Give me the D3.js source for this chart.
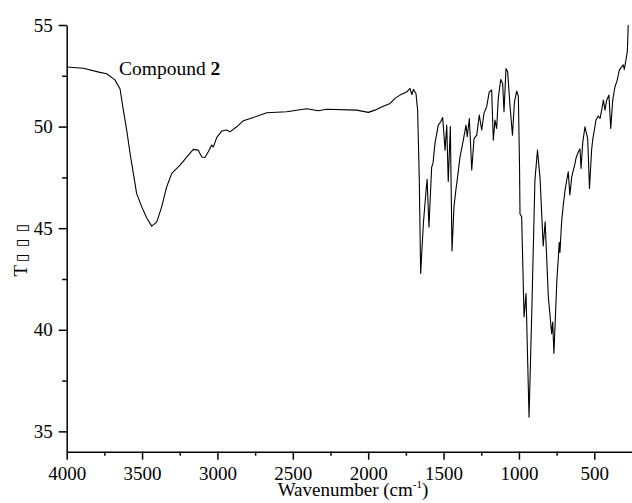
<!DOCTYPE html>
<html lang="en">
<head>
  <meta charset="UTF-8">
  <title>IR spectrum - Compound 2</title>
  <style>
  body { margin: 0; background: #fff; }
  svg { display: block; }
  text {
    font-family: 'Liberation Serif', 'Times New Roman', serif;
    fill: #000;
  }
  .axis path, .axis line {
    stroke: #000;
    stroke-width: 1.5px;
    fill: none;
  }
  .axis text { font-size: 19px; }
  .spectrum {
    fill: none;
    stroke: #000;
    stroke-width: 1.1px;
    stroke-linejoin: round;
  }
  </style>
</head>
<body>
  <svg></svg>
  <script src="https://d3js.org/d3.v7.min.js"></script>
  <script>

  // wavenumber (cm-1) and transmittance
  var wavenumber = [
    4000, 3890, 3779, 3735, 3680, 3646, 3625, 3602, 3580, 3558,
    3536, 3502, 3469, 3436, 3403, 3370, 3337, 3303, 3248, 3204,
    3160, 3127, 3104, 3083, 3061, 3038, 3027, 3005, 2972, 2939,
    2917, 2872, 2828, 2762, 2673, 2541, 2408, 2331, 2275, 2076,
    1999, 1955, 1900, 1855, 1822, 1789, 1745, 1723, 1710, 1700,
    1683, 1672, 1661, 1652, 1634, 1616, 1609, 1597, 1579, 1570,
    1557, 1535, 1519, 1506, 1490, 1479, 1469, 1455, 1444, 1431,
    1418, 1409, 1391, 1369, 1351, 1343, 1329, 1313, 1298, 1280,
    1263, 1247, 1232, 1214, 1197, 1181, 1170, 1159, 1148, 1137,
    1121, 1108, 1099, 1086, 1075, 1059, 1043, 1030, 1015, 1004,
    996, 993, 982, 966, 953, 933, 915, 894, 877, 860,
    839, 826, 805, 783, 776, 768, 748, 739, 733, 728,
    717, 706, 694, 683, 673, 662, 650, 628, 622, 606,
    595, 588, 577, 562, 544, 532, 518, 511, 489, 474,
    462, 451, 440, 429, 418, 403, 391, 378, 363, 348,
    334, 318, 308, 301, 292, 281, 275
  ];
  var transmittance = [
    52.93, 52.87, 52.67, 52.6, 52.3, 51.85, 50.85, 49.83, 48.7, 47.7,
    46.7, 46.05, 45.5, 45.1, 45.3, 46.05, 47.03, 47.7, 48.1, 48.5,
    48.88, 48.84, 48.5, 48.48, 48.76, 49.09, 49.0, 49.46, 49.78, 49.83,
    49.74, 49.99, 50.29, 50.45, 50.68, 50.73, 50.88, 50.78, 50.85, 50.81,
    50.7, 50.81, 51.0, 51.14, 51.39, 51.55, 51.7, 51.88, 51.58, 51.83,
    51.63, 50.8, 47.36, 42.77, 45.23, 46.87, 47.4, 45.06, 48.0, 48.2,
    49.17, 50.07, 50.24, 50.45, 48.84, 50.07, 47.3, 50.0, 43.88, 46.05,
    46.9, 47.4, 48.5, 49.33, 50.07, 49.5, 50.4, 47.86, 49.41, 49.58,
    50.57, 49.83, 50.65, 50.98, 51.71, 51.8, 49.33, 50.32, 49.91, 51.39,
    52.32, 52.12, 50.73, 52.86, 52.7, 51.0, 49.58, 51.2, 51.75, 51.5,
    48.0, 45.7, 45.56, 40.63, 41.78, 35.7, 40.8, 47.36, 48.84, 47.45,
    44.12, 45.31, 41.61, 39.81, 40.38, 38.83, 42.5, 43.5, 44.3, 43.8,
    45.3, 46.13, 46.87, 47.36, 47.77, 46.63, 47.53, 48.18, 48.43, 48.76,
    48.9, 47.94, 49.2, 49.99, 49.41, 46.95, 48.84, 49.33, 50.32, 50.52,
    50.4, 50.81, 51.3, 50.81, 51.3, 51.55, 49.91, 51.3, 51.96, 52.29,
    52.78, 52.95, 53.04, 52.82, 53.2, 53.69, 55.0
  ];

  var xMajor = [4000, 3500, 3000, 2500, 2000, 1500, 1000, 500];
  var xMinor = [3750, 3250, 2750, 2250, 1750, 1250, 750];
  var yMajor = [35, 40, 45, 50, 55];
  var yMinor = [37.5, 42.5, 47.5, 52.5];

  var width = 632, height = 503;
  var plotLeft = 66.7, plotRight = 632, plotTop = 25, plotBottom = 451.7;

  var svg = d3.select('svg').attr('width', width).attr('height', height);

  var x = d3.scaleLinear().domain([4000, 250]).range([plotLeft, plotRight]);
  var y = d3.scaleLinear().domain([34, 55]).range([plotBottom, plotTop]);

  // minor ticks first, then the labelled axis on top
  svg.append('g')
     .attr('class', 'axis')
     .attr('transform', 'translate(0,' + plotBottom + ')')
     .call(d3.axisBottom(x).tickValues(xMinor).tickSize(4).tickFormat(''))
     .select('.domain').remove();

  svg.append('g')
     .attr('class', 'axis')
     .attr('transform', 'translate(0,' + plotBottom + ')')
     .call(d3.axisBottom(x).tickValues(xMajor).tickSize(8).tickSizeOuter(0)
       .tickPadding(6.5).tickFormat(d3.format('d')));

  svg.append('g')
     .attr('class', 'axis')
     .attr('transform', 'translate(' + plotLeft + ',0)')
     .call(d3.axisLeft(y).tickValues(yMinor).tickSize(4.5).tickFormat(''))
     .select('.domain').remove();

  svg.append('g')
     .attr('class', 'axis')
     .attr('transform', 'translate(' + plotLeft + ',0)')
     .call(d3.axisLeft(y).tickValues(yMajor).tickSize(8).tickSizeOuter(0)
       .tickPadding(6).tickFormat(d3.format('d')));

  svg.selectAll('.axis text').attr('font-family', null).attr('font-size', null);

  var line = d3.line()
    .x(function (d) { return x(d[0]); })
    .y(function (d) { return y(d[1]); });

  svg.append('path')
     .datum(d3.zip(wavenumber, transmittance))
     .attr('class', 'spectrum')
     .attr('d', line);

  // sample label
  var label = svg.append('text')
     .attr('x', 119)
     .attr('y', 75)
     .style('font-size', '19.5px');
  label.append('tspan').text('Compound ');
  label.append('tspan').style('font-weight', 'bold').text('2');

  // x axis title
  var xt = svg.append('text')
     .attr('x', 353)
     .attr('y', 496)
     .attr('text-anchor', 'middle')
     .style('font-size', '19px');
  xt.append('tspan').text('Wavenumber (cm');
  xt.append('tspan').attr('dy', -8).style('font-size', '11px').text('-1');
  xt.append('tspan').attr('dy', 8).text(')');

  // y axis title (the original shows missing-glyph boxes)
  var yt = svg.append('text')
     .attr('transform', 'translate(27,247) rotate(-90)')
     .attr('text-anchor', 'middle')
     .style('font-size', '19px');
  yt.append('tspan').text('T');
  yt.append('tspan')
    .attr('dx', 3)
    .style('font-family', 'DejaVu Sans')
    .style('font-size', '16px')
    .attr('letter-spacing', '6px')
    .text('\u25af\u25af\u25af');

  </script>
</body>
</html>
